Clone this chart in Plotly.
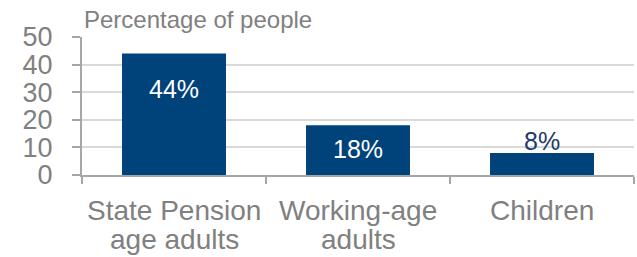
import plotly.graph_objects as go

categories = ["State Pension age adults", "Working-age adults", "Children"]
category_lines = [["State Pension", "age adults"], ["Working-age", "adults"], ["Children"]]
values = [44, 18, 8]
value_labels = ["44%", "18%", "8%"]
y_ticks = [0, 10, 20, 30, 40, 50]
y_title = "Percentage of people"

FONT = "Liberation Sans, Arial, sans-serif"
GRAY = "#808080"
BAR = "#00427a"

fig = go.Figure(go.Bar(x=categories, y=values, marker=dict(color=BAR, line=dict(width=0)),
                       hoverinfo="skip"))

# style: per-label shifts/colors
label_shift = [-35, -24, 12]
label_color = ["white", "white", "#1f3a6b"]
annotations = []
for c, v, t, s, col in zip(categories, values, value_labels, label_shift, label_color):
    annotations.append(dict(x=c, y=v, xref="x", yref="y", text=t, showarrow=False,
                            yanchor="middle", yshift=s,
                            font=dict(family=FONT, size=25, color=col)))
line_offsets = [-35, -64]
for c, lines in zip(categories, category_lines):
    for i, ln in enumerate(lines):
        annotations.append(dict(x=c, y=0, xref="x", yref="y", text=ln, showarrow=False,
                                yanchor="middle", yshift=line_offsets[i],
                                font=dict(family=FONT, size=28, color=GRAY)))
annotations.append(dict(x=0, y=1, xref="paper", yref="paper", text=y_title, showarrow=False,
                        xanchor="left", yanchor="bottom", yshift=2,
                        font=dict(family=FONT, size=24, color=GRAY)))

fig.update_layout(
    width=637, height=257,
    margin=dict(l=82, r=3, t=37, b=82),
    plot_bgcolor="white", paper_bgcolor="white",
    bargap=0.435, showlegend=False,
    annotations=annotations,
    font=dict(family=FONT, color=GRAY),
)
fig.update_xaxes(showticklabels=False, showline=True, linecolor="#a6a6a6", linewidth=2,
                 ticks="outside", ticklen=7, tickcolor="#a6a6a6", tickwidth=2,
                 tickson="boundaries", showgrid=False, automargin=False)
fig.update_yaxes(range=[0, 50], tickvals=y_ticks, showline=True, linecolor="#a6a6a6", linewidth=2,
                 ticks="outside", ticklen=8, tickcolor="#a6a6a6", tickwidth=2,
                 gridcolor="#d9d9d9", gridwidth=2, zeroline=False, automargin=False,
                 tickfont=dict(family=FONT, size=27, color=GRAY), ticklabelstandoff=14)

fig.write_html("out.html", config={"displayModeBar": False},
               post_script="document.body.style.margin='0';document.body.style.overflow='hidden';")
